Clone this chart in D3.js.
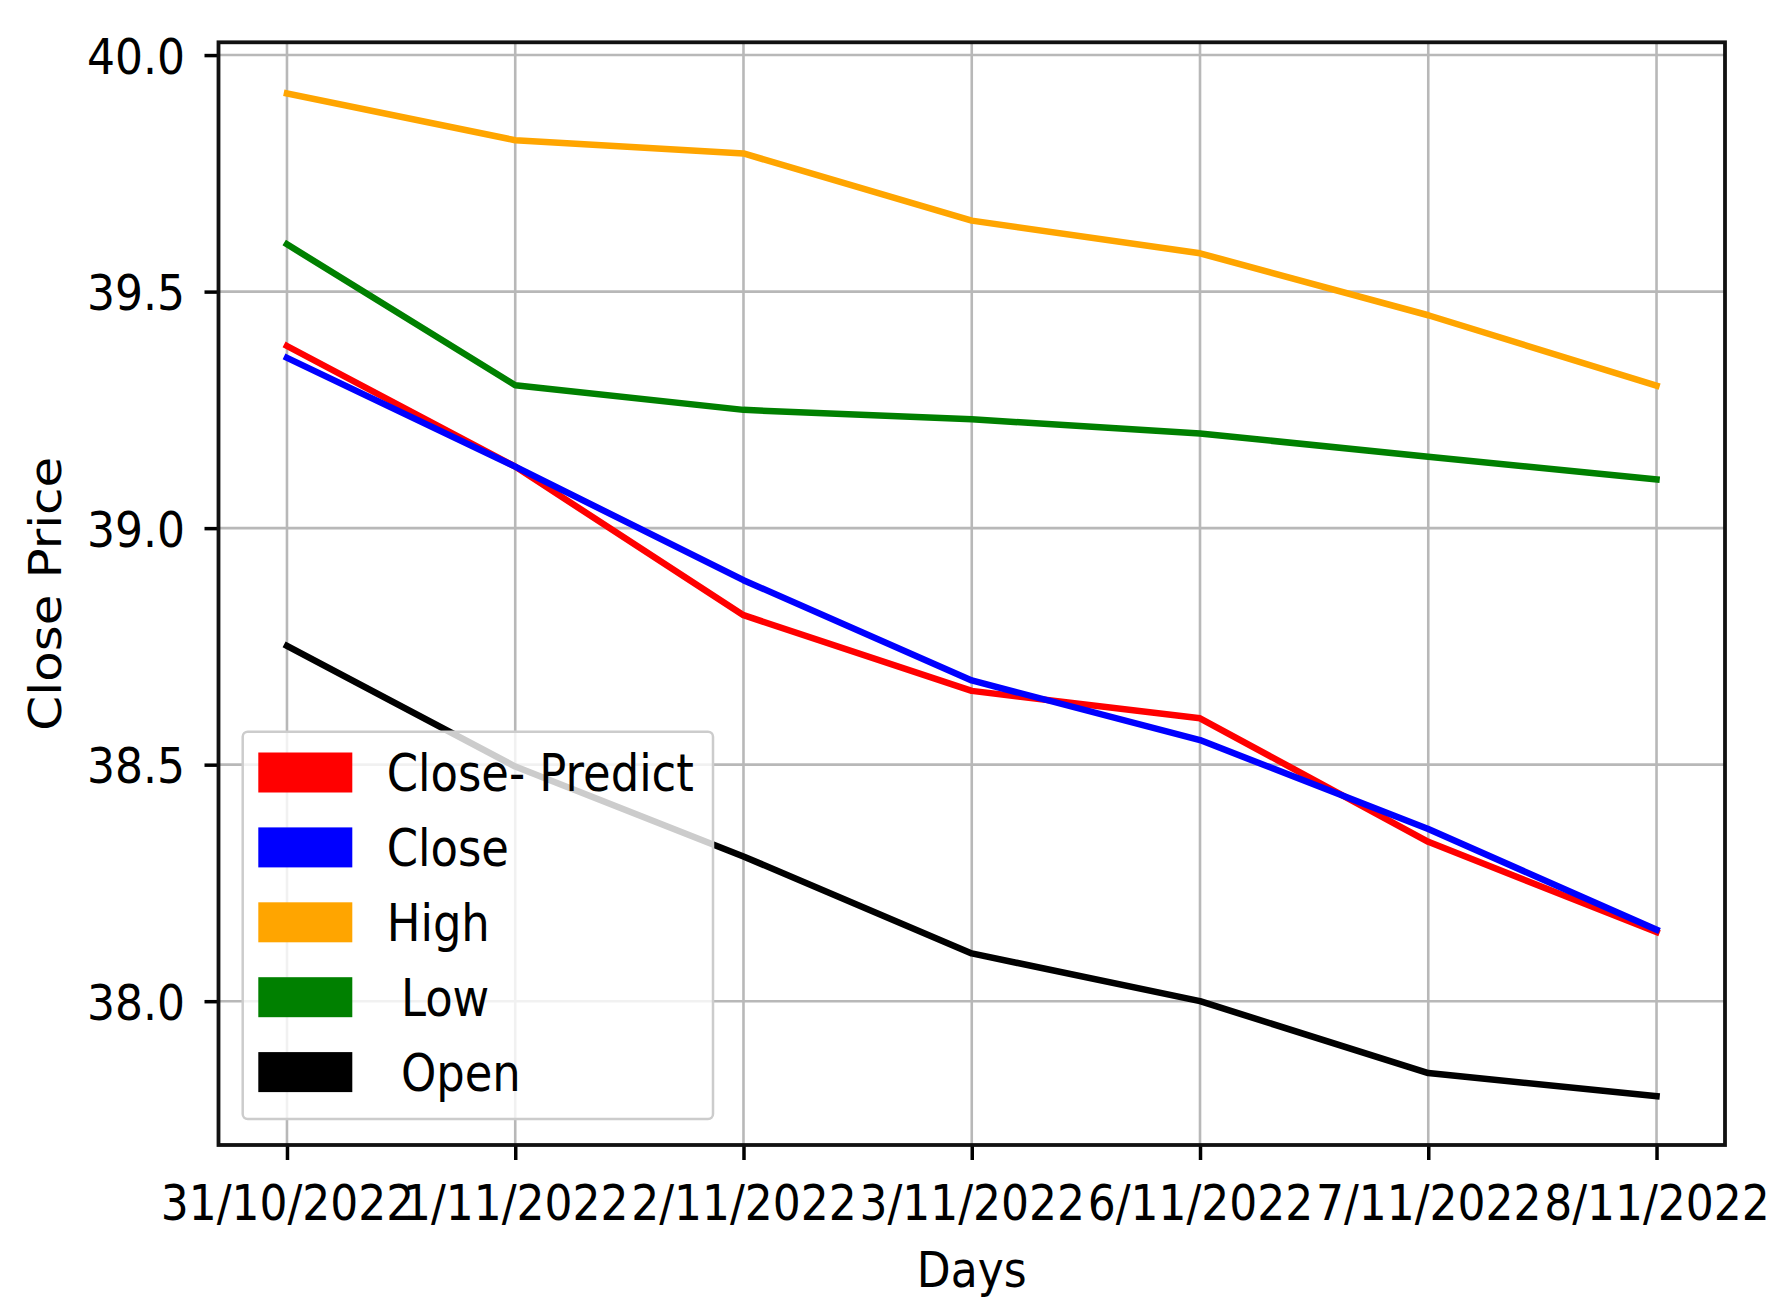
<!DOCTYPE html>
<html><head><meta charset="utf-8">
<script src="https://cdn.jsdelivr.net/npm/d3@7"></script>
<style>
html,body{margin:0;padding:0;background:#fff;}
svg{display:block;}
text{font-family:"DejaVu Sans",sans-serif;fill:#000;}
</style>
</head><body>
<svg id="chart" width="1784" height="1315"></svg>
<script>
// ---- data ----
const days = ["31/10/2022","1/11/2022","2/11/2022","3/11/2022","6/11/2022","7/11/2022","8/11/2022"];
const closePredict = [39.385, 39.130, 38.816, 38.656, 38.598, 38.337, 38.146];
const close        = [39.360, 39.130, 38.890, 38.678, 38.552, 38.364, 38.151];
const high         = [39.919, 39.820, 39.792, 39.650, 39.581, 39.450, 39.301];
const low          = [39.600, 39.302, 39.250, 39.230, 39.200, 39.151, 39.103];
const open         = [38.751, 38.496, 38.306, 38.101, 38.000, 37.848, 37.799];
const yTicks = [38.0, 38.5, 39.0, 39.5, 40.0];
const legendLabels = ["Close- Predict", "Close", "High", " Low", " Open"];
const seriesColors = ["#ff0000", "#0000ff", "#ffa500", "#008000", "#000000"];
const yDomain = [37.696, 40.027];

// ---- layout ----
const W = 1784, H = 1315;
const L = 218.5, R = 1725, T = 42.3, B = 1145;
const SX = 0.88, FS = 50;

const x = d3.scalePoint().domain(days).range([L, R]).padding(0.3);
const y = d3.scaleLinear().domain(yDomain).range([B, T]);

const svg = d3.select("#chart");
svg.append("rect").attr("width", W).attr("height", H).attr("fill", "#fff");

// grid
const grid = svg.append("g");
grid.selectAll("line.vg").data(days).join("line").attr("class", "vg")
  .attr("x1", d => x(d)).attr("x2", d => x(d)).attr("y1", T).attr("y2", B)
  .attr("stroke", "#b8b8b8").attr("stroke-width", 2.6);
grid.selectAll("line.hg").data(yTicks).join("line").attr("class", "hg")
  .attr("x1", L).attr("x2", R).attr("y1", d => y(d)).attr("y2", d => y(d))
  .attr("stroke", "#b8b8b8").attr("stroke-width", 2.6);

// lines
const series = [closePredict, close, high, low, open];
const line = d3.line().x((d, i) => x(days[i])).y(d => y(d));
svg.append("g").selectAll("path").data(series).join("path")
  .attr("d", line).attr("fill", "none")
  .attr("stroke", (d, i) => seriesColors[i])
  .attr("stroke-width", 6.5)
  .attr("stroke-linejoin", "round")
  .attr("stroke-linecap", "square");

// y axis
const gy = svg.append("g").attr("transform", `translate(${L},0)`)
  .call(d3.axisLeft(y).tickValues(yTicks).tickFormat(d3.format(".1f")).tickSize(14));
gy.select(".domain").remove();
gy.selectAll(".tick line").attr("stroke", "#000").attr("stroke-width", 3.5);
gy.selectAll(".tick text").attr("x", null).attr("dy", "0.36em")
  .attr("transform", `translate(-33.5,0) scale(${SX},1)`)
  .attr("font-size", FS).attr("text-anchor", "end");

// x axis
const gx = svg.append("g").attr("transform", `translate(0,${B})`)
  .call(d3.axisBottom(x).tickSize(15));
gx.select(".domain").remove();
gx.selectAll(".tick line").attr("stroke", "#000").attr("stroke-width", 3.5);
gx.selectAll(".tick text").attr("y", null).attr("dy", null)
  .attr("transform", `translate(0,75) scale(${SX},1)`)
  .attr("font-size", FS).attr("text-anchor", "middle");

// spines
svg.append("rect").attr("x", L).attr("y", T).attr("width", R - L).attr("height", B - T)
  .attr("fill", "none").attr("stroke", "#111").attr("stroke-width", 3.8);

// axis labels
svg.append("g").attr("transform", `translate(${(L + R) / 2},1287) scale(${SX},1)`)
  .append("text").attr("text-anchor", "middle").attr("font-size", FS).text("Days");
svg.append("g").attr("transform", `translate(61,${(T + B) / 2}) scale(${SX},1) rotate(-90)`)
  .append("text").attr("text-anchor", "middle").attr("font-size", FS).text("Close Price");

// legend
const lg = svg.append("g");
lg.append("rect").attr("x", 242.7).attr("y", 731.7).attr("width", 470.3).attr("height", 387.3)
  .attr("rx", 5).attr("fill", "#fff").attr("fill-opacity", 0.8)
  .attr("stroke", "#cccccc").attr("stroke-width", 2.5);
const items = lg.selectAll("g.item").data(legendLabels).join("g").attr("class", "item")
  .attr("transform", (d, i) => `translate(0,${772.5 + i * 74.9})`);
items.append("rect").attr("x", 258.3).attr("y", -20).attr("width", 94).attr("height", 40)
  .attr("fill", (d, i) => seriesColors[i]);
items.append("g").attr("transform", `translate(386.7,18.5) scale(${SX},1)`)
  .append("text").attr("font-size", 51).style("white-space", "pre").text(d => d);
</script>
</body></html>
